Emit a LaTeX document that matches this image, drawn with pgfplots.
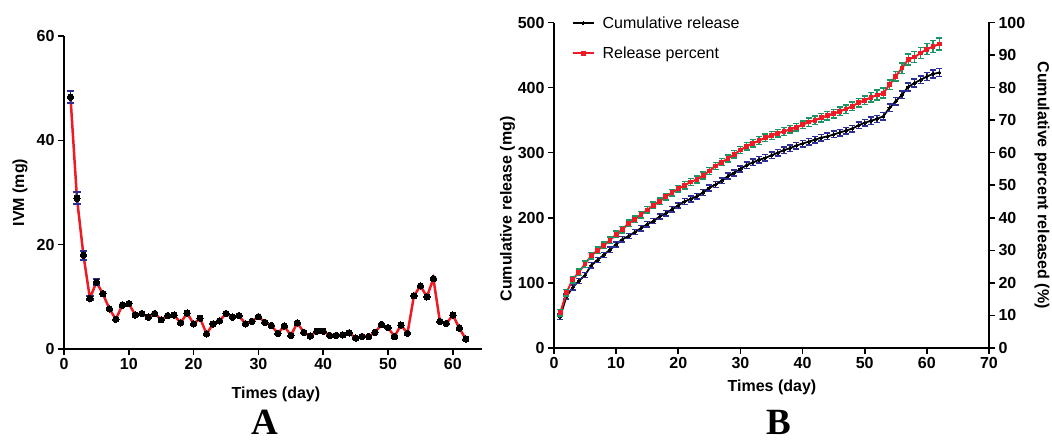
\documentclass[border=0pt]{standalone}
\usepackage{fontspec}
\setmainfont{Liberation Sans}
\newfontfamily\serifbf{Liberation Serif}
\usepackage{pgfplots}
\pgfplotsset{compat=1.18}
\definecolor{ebblue}{RGB}{45,45,150}
\definecolor{ebgreen}{RGB}{25,150,100}
\definecolor{pred}{RGB}{237,28,36}

\pgfplotstableread{
d v e
1 48.3 1.2
2 28.9 1.2
3 18.0 0.85
4 9.7 0.4
5 12.8 0.55
}\leftErr

\pgfplotstableread{
d v
1 48.3
2 28.9
3 18.0
4 9.7
5 12.8
6 10.6
7 7.7
8 5.7
9 8.4
10 8.7
11 6.5
12 6.8
13 6.1
14 6.8
15 5.6
16 6.4
17 6.5
18 5.0
19 6.9
20 4.8
21 5.9
22 2.9
23 4.8
24 5.4
25 6.8
26 6.1
27 6.4
28 4.8
29 5.3
30 6.2
31 5.1
32 4.5
33 3.0
34 4.4
35 2.6
36 5.0
37 3.2
38 2.5
39 3.4
40 3.4
41 2.6
42 2.6
43 2.7
44 3.1
45 2.1
46 2.4
47 2.4
48 3.2
49 4.7
50 4.1
51 2.4
52 4.6
53 3.0
54 10.2
55 12.1
56 10.0
57 13.5
58 5.3
59 4.9
60 6.5
61 4.0
62 1.9
}\leftData

\pgfplotstableread{
d m e p pe
1 48 4 10.8 1.0
2 79 4 17.0 1.0
3 93 4 21.0 1.0
4 103 4 23.3 1.0
5 112 4 25.8 1.0
6 127 4 28.4 1.0
7 135 4 30.0 1.0
8 143 4 31.5 1.0
9 151 4 33.1 1.0
10 159 4 34.9 1.0
11 167 4 36.4 1.0
12 172 4 38.3 1.0
13 178 4 39.5 1.0
14 184 4 41.0 1.0
15 190 4 42.4 1.0
16 195 4 43.8 1.0
17 202 4 45.1 1.0
18 207 4 46.5 1.0
19 213 4 47.7 1.0
20 219 4 48.9 1.0
21 225 4.5 50.0 1.1
22 229 4.5 51.0 1.1
23 233 4.5 51.8 1.1
24 239 4.5 53.0 1.1
25 246 4.5 54.4 1.1
26 251 4.5 55.9 1.1
27 257 4.5 57.1 1.1
28 264 4.5 58.2 1.1
29 269 4.5 59.5 1.1
30 275 4.5 60.8 1.1
31 281 5 62.0 1.2
32 285 5 62.9 1.2
33 289 5 63.7 1.2
34 292 5 64.6 1.2
35 296 5 65.3 1.2
36 300 5 66.0 1.2
37 304 5 66.5 1.2
38 307 5 67.2 1.2
39 311 5 67.8 1.2
40 314 5 68.6 1.2
41 317 5 69.4 1.3
42 320 5 70.0 1.3
43 323 5 70.7 1.3
44 325 5 71.4 1.3
45 328 5 72.0 1.3
46 331 5 72.7 1.3
47 334 5 73.4 1.3
48 337 5 74.3 1.3
49 342 5 75.3 1.3
50 346 5 76.1 1.3
51 349 5.5 77.0 1.5
52 352 5.5 77.7 1.5
53 356 5.5 78.3 1.5
54 369 5.5 80.9 1.5
55 379 5.5 83.5 1.5
56 389 5.5 86.0 1.6
57 401 6 88.6 1.7
58 407 6 89.4 1.7
59 412 6 90.6 1.7
60 417 6 91.8 1.7
61 421 6 92.6 1.8
62 423 6 93.4 1.8
}\rightData

\begin{document}
\begin{tikzpicture}
\useasboundingbox (0pt,0pt) rectangle (1052pt,444pt);
\pgfplotsset{
 every axis/.append style={
  scale only axis,
  clip=false,
  axis line style={line width=2pt,-},
  tick style={line width=1.6pt, black},
  major tick length=6pt,
  tick align=outside,
  /pgf/number format/assume math mode=true,
  tick label style={font=\fontsize{16}{16}\selectfont\bfseries},
  label style={font=\fontsize{16}{16}\selectfont\bfseries},
 }
}
% ---------- Panel A ----------
\begin{axis}[at={(64pt,95pt)},anchor=south west,width=418pt,height=313pt,
 xmin=0,xmax=64.5,ymin=0,ymax=60,
 axis x line*=bottom, axis y line*=left,
 xtick={0,10,...,60}, ytick={0,20,40,60},
 xlabel={Times (day)}, ylabel={IVM (mg)},
 xlabel style={at={(axis description cs:0.507,-0.145)},anchor=center},
 ylabel style={at={(axis description cs:-0.105,0.5)},anchor=center}]
\addplot[pred, line width=2.5pt, mark=*, mark size=3.2pt,
  mark options={black, fill=black, line width=0pt}] table[x=d,y=v] {\leftData};
\addplot[draw=none, mark=none, forget plot,
  error bars/.cd, y dir=both, y explicit,
  error bar style={ebblue, line width=1.8pt},
  error mark options={ebblue, rotate=90, mark size=3.8pt, line width=2pt}]
  table[x=d,y=v,y error=e] {\leftErr};
\end{axis}
% ---------- Panel B ----------
\begin{axis}[at={(554pt,96pt)},anchor=south west,width=435pt,height=325.5pt,
 xmin=0,xmax=70,ymin=0,ymax=500,
 axis x line*=bottom, axis y line*=left,
 xtick={0,10,...,70}, ytick={0,100,...,500},
 xlabel={Times (day)}, ylabel={Cumulative release (mg)},
 xlabel style={at={(axis description cs:0.501,-0.12)},anchor=center},
 ylabel style={at={(axis description cs:-0.107,0.427)},anchor=center},
 legend style={draw=none, fill=none, at={(axis description cs:0.04,1.025)},
   anchor=north west, font=\fontsize{16}{16}\selectfont, row sep=13pt,
   column sep=6pt, inner sep=0pt},
 legend cell align=left,
 legend image code/.code={\draw[mark repeat=2,mark phase=2,#1] plot coordinates {(0pt,0pt) (10.5pt,0pt) (21pt,0pt)};}]
\addlegendimage{black, line width=2pt, mark=*, mark size=1.5pt, mark options={line width=0pt}}
\addlegendentry{Cumulative release}
\addlegendimage{pred, line width=2pt, mark=square*, mark size=2pt, mark options={line width=0pt}}
\addlegendentry{Release percent}
\addplot[black, line width=1.8pt, mark=*, mark size=1.6pt, forget plot,
  mark options={line width=0pt, fill=black},
  error bars/.cd, y dir=both, y explicit,
  error bar style={ebblue, line width=1.3pt},
  error mark options={ebblue, rotate=90, mark size=3pt, line width=1.5pt}]
  table[x=d,y=m,y error=e] {\rightData};
\end{axis}
\begin{axis}[at={(554pt,96pt)},anchor=south west,width=435pt,height=325.5pt,
 xmin=0,xmax=70,ymin=0,ymax=100,
 axis x line=none, axis y line*=right,
 ytick={0,10,...,100},
 ylabel={Cumulative percent released (\%)},
 ylabel style={at={(axis description cs:1.122,0.5)},anchor=center,rotate=180}]
\addplot[pred, line width=2pt, mark=square*, mark size=1.9pt,
  mark options={line width=0pt, fill=pred},
  error bars/.cd, y dir=both, y explicit,
  error bar style={ebgreen, line width=1.3pt},
  error mark options={ebgreen, rotate=90, mark size=3pt, line width=1.5pt}]
  table[x=d,y=p,y error=pe] {\rightData};
\end{axis}
\node[anchor=base, inner sep=0pt, font=\serifbf\bfseries\fontsize{37}{37}\selectfont] at (265pt,9pt) {A};
\node[anchor=base, inner sep=0pt, font=\serifbf\bfseries\fontsize{37}{37}\selectfont] at (779pt,9pt) {B};
\end{tikzpicture}
\end{document}
